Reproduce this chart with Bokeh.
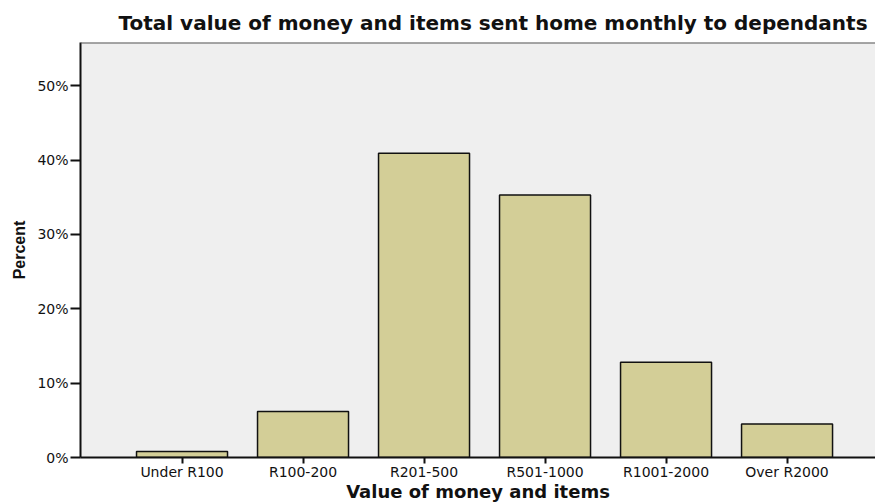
from bokeh.plotting import figure
from bokeh.models import Range1d, FixedTicker, ColumnDataSource, Span, Title
from bokeh.embed import file_html
from bokeh.resources import INLINE

categories = ["Under R100", "R100-200", "R201-500", "R501-1000", "R1001-2000", "Over R2000"]
percent = [0.8, 6.2, 40.9, 35.3, 12.8, 4.5]
y_ticks = [0, 10, 20, 30, 40, 50]
y_tick_labels = ["0%", "10%", "20%", "30%", "40%", "50%"]
y_max = 55.8
title_text = "Total value of money and items sent home monthly to dependants"
x_title = "Value of money and items"
y_title = "Percent"

positions = list(range(len(categories)))
src = ColumnDataSource(dict(x=positions, top=percent, cat=categories))

p = figure(width=875, height=504, output_backend="svg", toolbar_location=None,
           x_range=Range1d(-0.839, 5.731), y_range=Range1d(0, y_max),
           min_border_left=80, min_border_right=0, min_border_top=42, min_border_bottom=47)
p.border_fill_color = "white"
p.background_fill_color = "#efefef"
p.outline_line_color = None

p.add_layout(Span(location=y_max, dimension="width", line_color="#555555", line_width=2))

p.vbar(x="x", top="top", bottom=0, width=0.752, source=src,
       fill_color="#d3ce97", line_color="#111111", line_width=1.5)

p.add_layout(Title(text=title_text, align="left", offset=38, standoff=15,
                   text_font="DejaVu Sans", text_font_size="20px", text_font_style="bold",
                   text_color="#111111"), "above")

p.xgrid.grid_line_color = None
p.ygrid.grid_line_color = None

xa = p.xaxis[0]
xa.ticker = FixedTicker(ticks=positions)
xa.major_label_overrides = {i: c for i, c in zip(positions, categories)}
xa.minor_tick_line_color = None
xa.major_tick_in = 0
xa.major_tick_out = 6
xa.major_tick_line_width = 2
xa.axis_line_width = 2
xa.axis_line_color = "#111111"
xa.major_tick_line_color = "#111111"
xa.major_label_text_font = "DejaVu Sans"
xa.major_label_text_font_size = "14px"
xa.major_label_text_color = "#111111"
xa.major_label_standoff = 0
xa.axis_label = x_title
xa.axis_label_text_font = "DejaVu Sans"
xa.axis_label_text_font_size = "18px"
xa.axis_label_text_font_style = "bold"
xa.axis_label_text_color = "#111111"
xa.axis_label_standoff = -2

ya = p.yaxis[0]
ya.ticker = FixedTicker(ticks=y_ticks)
ya.major_label_overrides = {v: s for v, s in zip(y_ticks, y_tick_labels)}
ya.minor_tick_line_color = None
ya.major_tick_in = 0
ya.major_tick_out = 10
ya.major_tick_line_width = 2
ya.axis_line_width = 2
ya.axis_line_color = "#111111"
ya.major_tick_line_color = "#111111"
ya.major_label_text_font = "DejaVu Sans"
ya.major_label_text_font_size = "14px"
ya.major_label_text_color = "#111111"
ya.major_label_standoff = 2
ya.axis_label = y_title
ya.axis_label_text_font = "Liberation Sans"
ya.axis_label_text_font_size = "16px"
ya.axis_label_text_font_style = "bold"
ya.axis_label_text_color = "#111111"
ya.axis_label_standoff = 6

open("out.html", "w").write(file_html(p, INLINE))
